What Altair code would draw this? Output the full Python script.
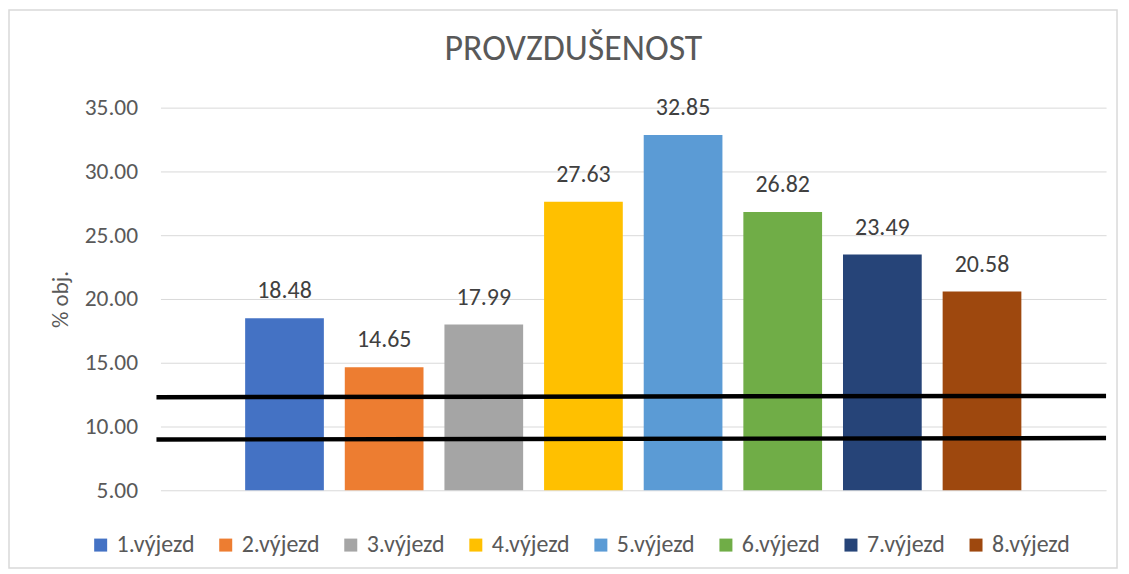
import altair as alt
import pandas as pd

categories = ["1.výjezd", "2.výjezd", "3.výjezd", "4.výjezd",
              "5.výjezd", "6.výjezd", "7.výjezd", "8.výjezd"]
values = [18.48, 14.65, 17.99, 27.63, 32.85, 26.82, 23.49, 20.58]
colors = ["#4472C4", "#ED7D31", "#A5A5A5", "#FFC000",
          "#5B9BD5", "#70AD47", "#264478", "#9E480E"]
y_ticks = [5, 10, 15, 20, 25, 30, 35]

# threshold lines (start value, end value)
line_start = [12.30, 8.98]
line_end = [12.40, 9.09]

FONT = "Carlito, Lato, Open Sans, sans-serif"

df = pd.DataFrame({"cat": categories, "val": values})
lines_df = pd.DataFrame({"y": line_start, "y2": line_end})

x_enc = alt.X("cat:N", sort=categories, axis=None,
              scale=alt.Scale(paddingInner=0.21, paddingOuter=0.85))
y_scale = alt.Scale(domain=[5, 35], nice=False, zero=False)

bars = alt.Chart(df).mark_bar().encode(
    x=x_enc,
    y=alt.Y("val:Q", scale=y_scale,
            axis=alt.Axis(values=y_ticks, format=".2f", title="% obj.",
                          grid=True, gridColor="#D9D9D9", gridWidth=1,
                          ticks=False, domain=False, labelPadding=23,
                          labelFontSize=23.5, labelColor="#595959", labelFont=FONT,
                          titleFontSize=23, titleColor="#595959", titleFont=FONT,
                          titleFontWeight="normal", titlePadding=12)),
    y2=alt.datum(5),
    color=alt.Color("cat:N", sort=categories,
                    scale=alt.Scale(domain=categories, range=colors),
                    legend=alt.Legend(title=None, orient="none", direction="horizontal",
                                      columns=8, legendX=-72, legendY=427,
                                      symbolType="square", symbolSize=170,
                                      symbolStrokeWidth=0, symbolOpacity=1,
                                      labelFontSize=24, labelColor="#595959",
                                      labelFont=FONT, labelOffset=4,
                                      columnPadding=18.5, labelLimit=200)),
)

labels = alt.Chart(df).mark_text(baseline="bottom", dy=-15, fontSize=24,
                                 color="#404040", font=FONT).encode(
    x=x_enc,
    y=alt.Y("val:Q", scale=y_scale),
    text=alt.Text("val:Q", format=".2f"),
)

rules = alt.Chart(lines_df).mark_rule(color="black", strokeWidth=4.5).encode(
    x=alt.value(-4), x2=alt.value(949),
    y=alt.Y("y:Q", scale=y_scale), y2="y2:Q",
)

frame = alt.Chart(pd.DataFrame({"a": [0]})).mark_rect(
    fill=None, stroke="#D9D9D9", strokeWidth=1.5).encode(
    x=alt.value(-152), x2=alt.value(960),
    y=alt.value(-98), y2=alt.value(462),
)

chart = alt.layer(frame, bars, labels, rules).properties(
    width=949, height=384,
    title=alt.TitleParams("PROVZDUŠENOST", fontSize=36, font=FONT, fontWeight=300,
                          color="#595959", anchor="middle", frame="group",
                          dx=-60, offset=-59),
    autosize=alt.AutoSizeParams(type="none"),
    padding={"left": 153, "top": 99, "right": 15, "bottom": 81},
).configure_view(stroke=None)

chart.save("out.html", embed_options={"renderer": "svg", "actions": False})
